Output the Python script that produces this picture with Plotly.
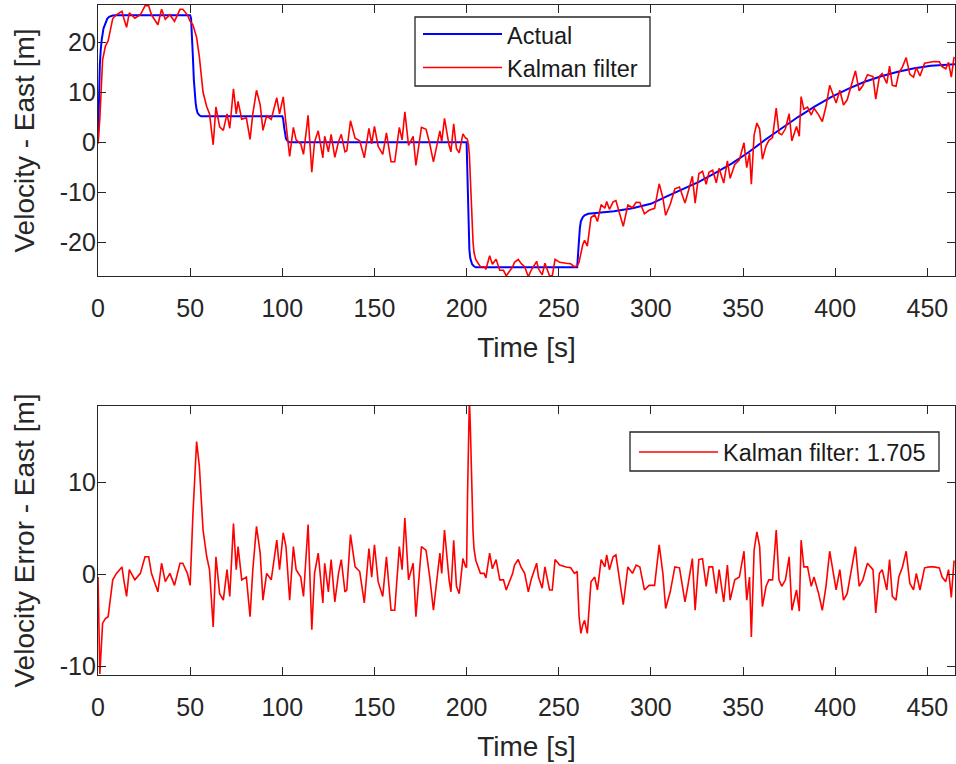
import plotly.graph_objects as go

# ---------------- data ----------------
# Actual velocity (blue) - key points
act_t = [0, 0.5, 1, 1.5, 2, 3, 4, 5, 6, 8, 10, 50, 50.5, 51, 51.5, 52, 52.5, 53, 53.5, 54,
         55, 56, 100, 100.5, 101, 101.5, 102, 103, 104, 200, 200.5, 201, 201.5, 202, 203, 204, 205,
         260, 260.5, 261, 261.5, 262, 263, 264, 266, 272, 280, 290, 300, 308, 317, 326, 335, 344,
         353, 362, 371, 380, 389, 398, 407, 416, 425, 434, 443, 452, 465]
act_v = [0, 9, 15.5, 18.5, 20.5, 22.8, 24, 24.7, 25.1, 25.35, 25.4, 25.4, 24.8, 22, 17, 12.5, 9.5, 7.8, 6.6, 5.9,
         5.4, 5.2, 5.2, 4.6, 3, 1.5, 0.7, 0.2, 0, 0, -8, -17, -21.5, -23.2, -24.4, -24.8, -25,
         -25, -23, -19.5, -17, -15.8, -15, -14.6, -14.3, -14.1, -13.8, -13.2, -12.3, -10.9, -9.4, -7.9, -6.1, -4.2,
         -2.0, 0.5, 2.8, 5.1, 7.2, 9.1, 10.7, 12.1, 13.2, 14.1, 14.8, 15.3, 15.6]

# Kalman filter samples (time, estimate, error)
kf_t = [0, 1, 2.5, 4, 5.5, 6.5, 8, 10, 12, 13,
        14, 15.5, 17, 20, 23, 25.5, 27.5, 29, 32.5, 34.5,
        36.5, 39, 41.5, 44.5, 46, 48.5, 50, 51.5, 53.5, 55,
        57, 59, 60.5, 62.5, 64, 66, 68, 70, 71.5, 73.5,
        75, 76, 78, 80.5, 82.5, 84, 86, 88, 89.5, 91.5,
        94, 97, 98.5, 100.5, 102, 104, 106, 107.5, 110, 111.5,
        114, 116, 117.5, 119.5, 122, 123, 125, 126.5, 128.5, 130.5,
        132, 134, 135, 137, 139.5, 142, 144.5, 147, 148.5, 150,
        152, 154.5, 156.5, 159, 161, 163.5, 165, 166.5, 168.5, 171,
        172.5, 175.5, 178, 180, 182, 183.5, 185.5, 186.5, 188, 190.5,
        191.5, 193, 194.5, 196, 198, 199.5, 200, 200.5, 201, 201.5,
        202, 202.5, 203, 203.5, 204, 205, 207.5, 209.5, 210.5, 212.5,
        214, 216, 218, 220, 221.5, 223.5, 225, 226, 228, 229.5,
        231.5, 233.5, 235, 238, 239, 241, 242.5, 245, 246.5, 248,
        250.5, 254, 256.5, 258.5, 260, 261, 262, 263, 264, 265.5,
        267.5, 269.5, 271, 273, 275, 276, 277.5, 279.5, 281, 283,
        285, 287.5, 290, 292, 294, 296.5, 299, 302, 304.5, 306.5,
        308, 310.5, 313, 315.5, 316.5, 318.5, 320, 322.5, 324, 326,
        328, 330, 331.5, 333.5, 335.5, 337, 339.5, 341.5, 343, 345.5,
        348, 350.5, 352, 353.5, 354.5, 356, 357.5, 359, 360.5, 362.5,
        364, 366, 368, 369.5, 371, 373, 375, 376.5, 379, 380.5,
        381.5, 383, 385, 387, 388.5, 391, 393, 395, 397, 398.5,
        400.5, 402.5, 404.5, 406.5, 409.5, 411, 413, 415, 417.5, 420.5,
        422, 424, 425.5, 428, 429.5, 431, 433, 434.5, 436.5, 438.5,
        440.5, 442.5, 444, 446, 448.5, 451, 453.5, 456.5, 458, 460,
        461.5, 463, 464.5]

kf_v = [-0.3, 4.7, 16.5, 19.2, 20.3, 22.4, 24.75, 25.5, 25.9, 26.2,
        24.8, 23.0, 25.9, 24.8, 25.5, 27.3, 27.3, 25.5, 23.5, 26.6,
        24.6, 25.5, 24.2, 26.6, 26.6, 25.5, 24.2, 23.5, 21.0, 17.1,
        10.0, 7.1, 5.7, -0.5, 7.1, 3.1, 2.4, 5.7, 2.8, 10.7,
        5.7, 8.2, 4.6, 4.9, 0.6, 5.7, 10.4, 7.5, 2.4, 5.3,
        4.6, 8.9, 5.7, 9.1, 3.7, -2.8, 3.0, 0.5, -0.3, -2.4,
        5.4, -6.0, 0.1, 2.3, -3.1, 1.2, -1.9, 1.6, -3.0, 0.1,
        1.6, -1.9, -1.7, 4.3, 0.8, 0.3, -3.1, 2.8, -0.3, 3.2,
        -0.8, -2.4, 1.9, -3.9, -3.9, 3.0, 0.5, 6.1, -0.6, 1.2,
        -4.6, 3.0, 2.6, -0.3, -3.9, -1.3, 2.3, 0.1, 4.8, -0.6,
        -1.9, 3.7, -1.3, -2.1, 1.7, 0.8, 0.8, 0.5, -0.5, -2.5,
        -7.0, -12.0, -17.0, -20.0, -22.0, -23.5, -24.9, -24.9, -25.4, -22.7,
        -24.4, -23.4, -25.6, -25.6, -26.7, -25.6, -24.9, -24.0, -23.4, -24.2,
        -24.9, -26.9, -25.6, -23.8, -25.3, -26.5, -24.2, -26.7, -26.7, -23.4,
        -24.0, -24.2, -24.3, -24.9, -24.7, -24.0, -22.2, -20.5, -19.6, -20.75,
        -15.05, -14.5, -15.85, -12.45, -13.2, -11.85, -13.4, -11.9, -11.65, -14.2,
        -16.8, -12.55, -13.1, -12.0, -12.05, -14.3, -13.6, -13.2, -8.3, -11.1,
        -14.6, -12.4, -9.3, -8.95, -10.1, -12.15, -10.2, -6.8, -12.15, -6.3,
        -5.8, -8.4, -6.0, -5.6, -8.1, -5.2, -8.15, -3.7, -7.2, -4.45,
        -3.5, -0.1, -5.05, -2.15, -8.4, 1.45, 3.85, 2.65, -3.4, -0.7,
        0.4, 0.95, 6.85, 1.8, 1.5, 2.7, 5.7, 0.3, 3.15, 1.2,
        9.15, 6.6, 7.05, 5.45, 6.8, 5.5, 4.15, 7.15, 11.4, 10.0,
        7.85, 10.4, 7.45, 8.5, 12.3, 14.3, 10.3, 11.35, 13.5, 13.15,
        8.65, 13.2, 13.75, 11.8, 15.25, 11.4, 11.2, 13.85, 15.1, 16.95,
        13.6, 13.05, 14.95, 13.25, 15.8, 16.05, 16.15, 16.1, 15.15, 14.7,
        16.0, 13.05, 17.1]

kf_err = [-0.3, -10.8, -5.3, -4.8, -4.6, -2.8, -0.6, 0.1, 0.5, 0.8,
          -0.6, -2.4, 0.5, -0.6, 0.1, 1.9, 1.9, 0.1, -1.9, 1.2,
          -0.8, 0.1, -1.2, 1.2, 1.2, 0.1, -1.2, 6.5, 14.4, 11.7,
          4.8, 1.9, 0.5, -5.7, 1.9, -2.1, -2.8, 0.5, -2.4, 5.5,
          0.5, 3.0, -0.6, -0.3, -4.6, 0.5, 5.2, 2.3, -2.8, 0.1,
          -0.6, 3.7, 0.5, 4.5, 3.0, -2.8, 3.0, 0.5, -0.3, -2.4,
          5.4, -6.0, 0.1, 2.3, -3.1, 1.2, -1.9, 1.6, -3.0, 0.1,
          1.6, -1.9, -1.7, 4.3, 0.8, 0.3, -3.1, 2.8, -0.3, 3.2,
          -0.8, -2.4, 1.9, -3.9, -3.9, 3.0, 0.5, 6.1, -0.6, 1.2,
          -4.6, 3.0, 2.6, -0.3, -3.9, -1.3, 2.3, 0.1, 4.8, -0.6,
          -1.9, 3.7, -1.3, -2.1, 1.7, 0.8, 0.8, 8.5, 16.5, 19.0,
          16.2, 11.9, 7.4, 4.6, 2.8, 1.5, 0.1, 0.1, -0.4, 2.3,
          0.6, 1.6, -0.6, -0.6, -1.7, -0.6, 0.1, 1.0, 1.6, 0.8,
          0.1, -1.9, -0.6, 1.2, -0.3, -1.5, 0.8, -1.7, -1.7, 1.6,
          1.0, 0.8, 0.7, 0.1, 0.3, -4.5, -6.4, -5.5, -5.0, -6.4,
          -0.8, -0.3, -1.7, 1.6, 0.8, 2.1, 0.5, 1.9, 2.1, -0.6,
          -3.3, 0.8, 0.1, 1.0, 0.8, -1.7, -1.2, -1.2, 3.2, 0.1,
          -3.7, -1.9, 0.8, 0.7, -0.6, -3.0, -1.3, 1.7, -3.9, 1.6,
          1.7, -1.3, 0.8, 0.8, -2.1, 0.5, -3.0, 1.0, -2.8, -0.6,
          -0.3, 2.5, -2.8, -0.3, -6.8, 2.6, 4.6, 3.0, -3.5, -1.3,
          -0.6, -0.6, 4.8, -0.6, -1.3, -0.6, 1.9, -3.9, -1.7, -4.0,
          3.7, 0.8, 0.8, -1.3, -0.3, -2.1, -3.9, -1.3, 2.5, 0.8,
          -1.7, 0.5, -2.8, -2.1, 1.2, 3.0, -1.3, -0.6, 1.2, 0.5,
          -4.2, 0.1, 0.5, -1.7, 1.6, -2.4, -2.8, -0.3, 0.8, 2.5,
          -1.0, -1.7, 0.1, -1.7, 0.7, 0.8, 0.8, 0.7, -0.3, -0.8,
          0.5, -2.5, 1.5]

x_ticks = [0, 50, 100, 150, 200, 250, 300, 350, 400, 450]
y1_ticks = [-20, -10, 0, 10, 20]
y1_labels = ["-20", "-10", "0", "10", "20"]
y2_ticks = [-10, 0, 10]
y2_labels = ["-10", "0", "10"]
name_actual = "Actual"
name_kf = "Kalman filter"
rms_label = "Kalman filter: 1.705"

BLUE = "#0000FF"
RED = "#FF0000"

# ---------------- figure ----------------
FONT = "Liberation Sans, Arial, Helvetica, sans-serif"
AX = "#262626"
W, H = 956, 764
ML, MR, MT, MB = 98, 1, 5, 89
PW, PH = W - ML - MR, H - MT - MB


def px(x):  # pixel x -> paper x
    return (x - ML) / PW


def py(y):  # pixel y -> paper y
    return (H - MB - y) / PH


fig = go.Figure()
fig.add_trace(go.Scatter(x=act_t, y=act_v, mode="lines", name=name_actual,
                         line=dict(color=BLUE, width=2), xaxis="x", yaxis="y"))
fig.add_trace(go.Scatter(x=kf_t, y=kf_v, mode="lines", name=name_kf,
                         line=dict(color=RED, width=1.6), xaxis="x", yaxis="y"))
fig.add_trace(go.Scatter(x=kf_t, y=kf_err, mode="lines", name=rms_label,
                         line=dict(color=RED, width=1.6), xaxis="x2", yaxis="y2"))

axis_common = dict(showline=True, linecolor=AX, linewidth=1.3, mirror="ticks",
                   ticks="inside", ticklen=8, tickwidth=1.3, tickcolor=AX,
                   showgrid=False, zeroline=False, automargin=False,
                   tickfont=dict(family=FONT, size=25, color=AX))
title_font = dict(family=FONT, size=28, color=AX)

fig.update_layout(
    width=W, height=H,
    margin=dict(l=ML, r=MR, t=MT, b=MB),
    paper_bgcolor="white", plot_bgcolor="white",
    font=dict(family=FONT, color=AX),
    showlegend=False,
    xaxis=dict(domain=[0, 1], range=[0, 465], tickvals=x_ticks, anchor="y",
               title=dict(text="Time [s]", font=title_font, standoff=16),
               ticklabelstandoff=10, **axis_common),
    yaxis=dict(domain=[py(276), 1], range=[-26.74, 27.46], tickvals=y1_ticks, ticktext=y1_labels,
               anchor="x", title=dict(text="Velocity - East [m]", font=title_font, standoff=16),
               ticklabelstandoff=-4, **axis_common),
    xaxis2=dict(domain=[0, 1], range=[0, 465], tickvals=x_ticks, anchor="y2",
                title=dict(text="Time [s]", font=title_font, standoff=16),
                ticklabelstandoff=10, **axis_common),
    yaxis2=dict(domain=[0, py(406)], range=[-10.92, 18.25], tickvals=y2_ticks, ticktext=y2_labels,
                anchor="x2", title=dict(text="Velocity Error - East [m]", font=title_font, standoff=16),
                ticklabelstandoff=-4, **axis_common),
)

# ---- legends (MATLAB style boxes with long line samples) ----
leg_font = dict(family=FONT, size=23.5, color="#1a1a1a")
shapes = [
    # top legend
    dict(type="rect", xref="paper", yref="paper", x0=px(415), x1=px(650), y0=py(86), y1=py(17),
         line=dict(color=AX, width=1.3), fillcolor="white", layer="above"),
    dict(type="line", xref="paper", yref="paper", x0=px(423), x1=px(502), y0=py(34), y1=py(34),
         line=dict(color=BLUE, width=2), layer="above"),
    dict(type="line", xref="paper", yref="paper", x0=px(423), x1=px(502), y0=py(67.5), y1=py(67.5),
         line=dict(color=RED, width=1.6), layer="above"),
    # bottom legend
    dict(type="rect", xref="paper", yref="paper", x0=px(630), x1=px(939), y0=py(471), y1=py(432),
         line=dict(color=AX, width=1.3), fillcolor="white", layer="above"),
    dict(type="line", xref="paper", yref="paper", x0=px(639), x1=px(718), y0=py(452), y1=py(452),
         line=dict(color=RED, width=1.6), layer="above"),
]
annotations = [
    dict(text=name_actual, xref="paper", yref="paper", x=px(505), y=py(36), xanchor="left",
         yanchor="middle", showarrow=False, font=leg_font),
    dict(text=name_kf, xref="paper", yref="paper", x=px(505), y=py(69), xanchor="left",
         yanchor="middle", showarrow=False, font=leg_font),
    dict(text=rms_label, xref="paper", yref="paper", x=px(721), y=py(453.5), xanchor="left",
         yanchor="middle", showarrow=False, font=leg_font),
]
fig.update_layout(shapes=shapes, annotations=annotations)

# remove the default 8px page margin so the figure sits at the window's top-left corner
fig.write_html("out.html",
               config={"displayModeBar": False},
               post_script="document.body.style.margin='0px';document.body.style.overflow='hidden';")
